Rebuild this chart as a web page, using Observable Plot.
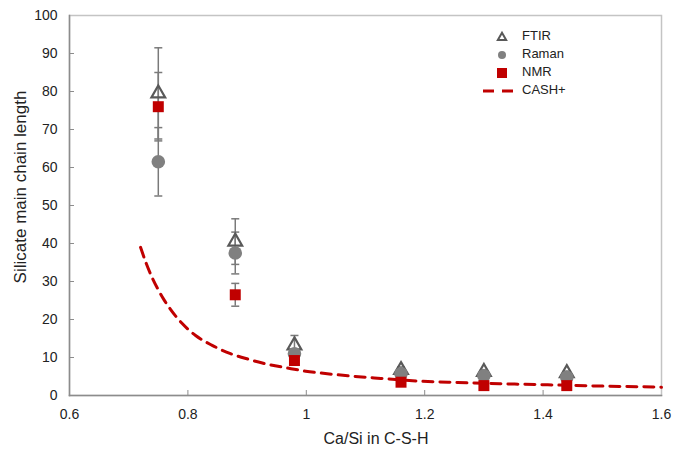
<!DOCTYPE html>
<html>
<head>
<meta charset="utf-8">
<script src="https://cdn.jsdelivr.net/npm/d3@7"></script>
<script src="https://cdn.jsdelivr.net/npm/@observablehq/plot@0.6"></script>
<style>
  html, body { margin: 0; padding: 0; background: #fff; }
  #chart { position: relative; width: 690px; height: 453px; }
  svg { font-family: "Liberation Sans", Arial, sans-serif; }
</style>
</head>
<body>
<div id="chart"></div>
<script>
// ---- data ----
const caSi = [0.75, 0.88, 0.98, 1.16, 1.30, 1.44];
const ftir = [79.5, 40.5, 13.2, 6.7, 6.2, 5.9];
const ftirErr = [12, 6, 2.6, 0.8, 0.6, 0.5];
const raman = [61.5, 37.5, 11.0, 5.7, 5.2, 4.8];
const ramanErr = [9, 5.5, 1.0, 0.5, 0.5, 0.5];
const nmr = [76, 26.5, 9.2, 3.5, 2.6, 2.6];
const nmrErr = [9, 3, 0, 0, 0, 0];
const cashX = [0.72, 0.73, 0.74, 0.75, 0.76, 0.77, 0.79, 0.813, 0.841, 0.872, 0.903, 0.935, 0.966, 0.999, 1.025, 1.07, 1.126, 1.188, 1.256, 1.352, 1.408, 1.493, 1.6];
const cashY = [39.0, 34.6, 30.9, 27.8, 25.1, 22.8, 19.0, 15.8, 13.2, 11.0, 9.5, 8.2, 7.3, 6.4, 5.9, 5.2, 4.5, 3.8, 3.4, 3.0, 2.8, 2.5, 2.2];
const xTicks = [0.6, 0.8, 1, 1.2, 1.4, 1.6];
const yTicks = [0, 10, 20, 30, 40, 50, 60, 70, 80, 90, 100];
const seriesNames = ["FTIR", "Raman", "NMR", "CASH+"];

const red = "#C00000", gray = "#808080", dark = "#595959", errCol = "#7a7a7a";

const pts = (vals, errs) => caSi.map((x, i) => ({x, y: vals[i], e: errs[i]}));
const ftirData = pts(ftir, ftirErr), ramanData = pts(raman, ramanErr), nmrData = pts(nmr, nmrErr);
const errAll = [...ftirData, ...ramanData, ...nmrData].filter(d => d.e > 0);
const caps = errAll.flatMap(d => [{x: d.x, y: d.y - d.e}, {x: d.x, y: d.y + d.e}]);
const cash = cashX.map((x, i) => ({x, y: cashY[i]}));

const capSymbol = { draw(ctx, size) { const w = 4; ctx.moveTo(-w, 0); ctx.lineTo(w, 0); } };

const plot = Plot.plot({
  width: 690, height: 453,
  marginLeft: 69, marginRight: 29, marginTop: 15, marginBottom: 58,
  style: {fontFamily: "Liberation Sans, Arial, sans-serif", fontSize: "14px", color: "#333"},
  x: {domain: [0.6, 1.6]},
  y: {domain: [0, 100]},
  marks: [
    Plot.frame({stroke: "#c4c4c4", strokeWidth: 1.5}),
    Plot.frame({anchor: "left", stroke: "#8c8c8c", strokeWidth: 1.5}),
    Plot.frame({anchor: "bottom", stroke: "#8c8c8c", strokeWidth: 1.5}),
    Plot.axisX({ticks: xTicks, tickSize: 0, tickPadding: 14, label: null, tickFormat: d => String(d), fill: "#222"}),
    Plot.axisX({ticks: xTicks.slice(1, -1), tickSize: -5, text: null, label: null, stroke: "#8c8c8c"}),
    Plot.axisY({ticks: yTicks, tickSize: 0, tickPadding: 12, label: null, fill: "#222"}),
    Plot.axisY({ticks: yTicks.slice(1, -1), tickSize: -5, text: null, label: null, stroke: "#8c8c8c"}),
    Plot.ruleX(errAll, {x: "x", y1: d => d.y - d.e, y2: d => d.y + d.e, stroke: errCol, strokeWidth: 1.5}),
    Plot.dot(caps, {x: "x", y: "y", symbol: capSymbol, r: 4, stroke: errCol, strokeWidth: 1.5}),
    Plot.line(cash, {x: "x", y: "y", curve: "monotone-x", stroke: red, strokeWidth: 3, strokeDasharray: "10,7"}),
    Plot.dot(ftirData, {x: "x", y: "y", symbol: "triangle", r: 5.1, stroke: dark, strokeWidth: 2.2, fill: "none"}),
    Plot.dot(ramanData, {x: "x", y: "y", symbol: "circle", r: 6.8, fill: gray, stroke: "none"}),
    Plot.dot(nmrData, {x: "x", y: "y", symbol: "square", r: 6.2, fill: red, stroke: "none"})
  ]
});
document.getElementById("chart").appendChild(plot);

// axis titles and legend
const svg = d3.select(plot);
svg.append("text").attr("transform", "translate(22,187) rotate(-90)")
  .attr("text-anchor", "middle").attr("dominant-baseline", "middle")
  .attr("fill", "#222").style("font-size", "17px").text("Silicate main chain length");
svg.append("text").attr("x", 376).attr("y", 440)
  .attr("text-anchor", "middle").attr("dominant-baseline", "middle")
  .attr("fill", "#222").style("font-size", "16px").text("Ca/Si in C-S-H");

const lg = svg.append("g").style("font-size", "13px");
const rows = [37, 55, 73, 91];
seriesNames.forEach((name, i) => {
  lg.append("text").attr("x", 522).attr("y", rows[i]).attr("dominant-baseline", "middle")
    .attr("text-anchor", "start").attr("fill", "#222").text(name);
});
lg.append("path").attr("d", d3.symbol(d3.symbolTriangle, 30)()).attr("transform", `translate(502,${rows[0] + 0.5})`)
  .attr("fill", "none").attr("stroke", dark).attr("stroke-width", 2);
lg.append("circle").attr("cx", 502).attr("cy", rows[1]).attr("r", 4).attr("fill", gray);
lg.append("rect").attr("x", 497).attr("y", rows[2] - 5).attr("width", 10).attr("height", 10).attr("fill", red);
lg.append("line").attr("x1", 483).attr("x2", 514).attr("y1", rows[3]).attr("y2", rows[3])
  .attr("stroke", red).attr("stroke-width", 3).attr("stroke-dasharray", "11,8");
</script>
</body>
</html>
